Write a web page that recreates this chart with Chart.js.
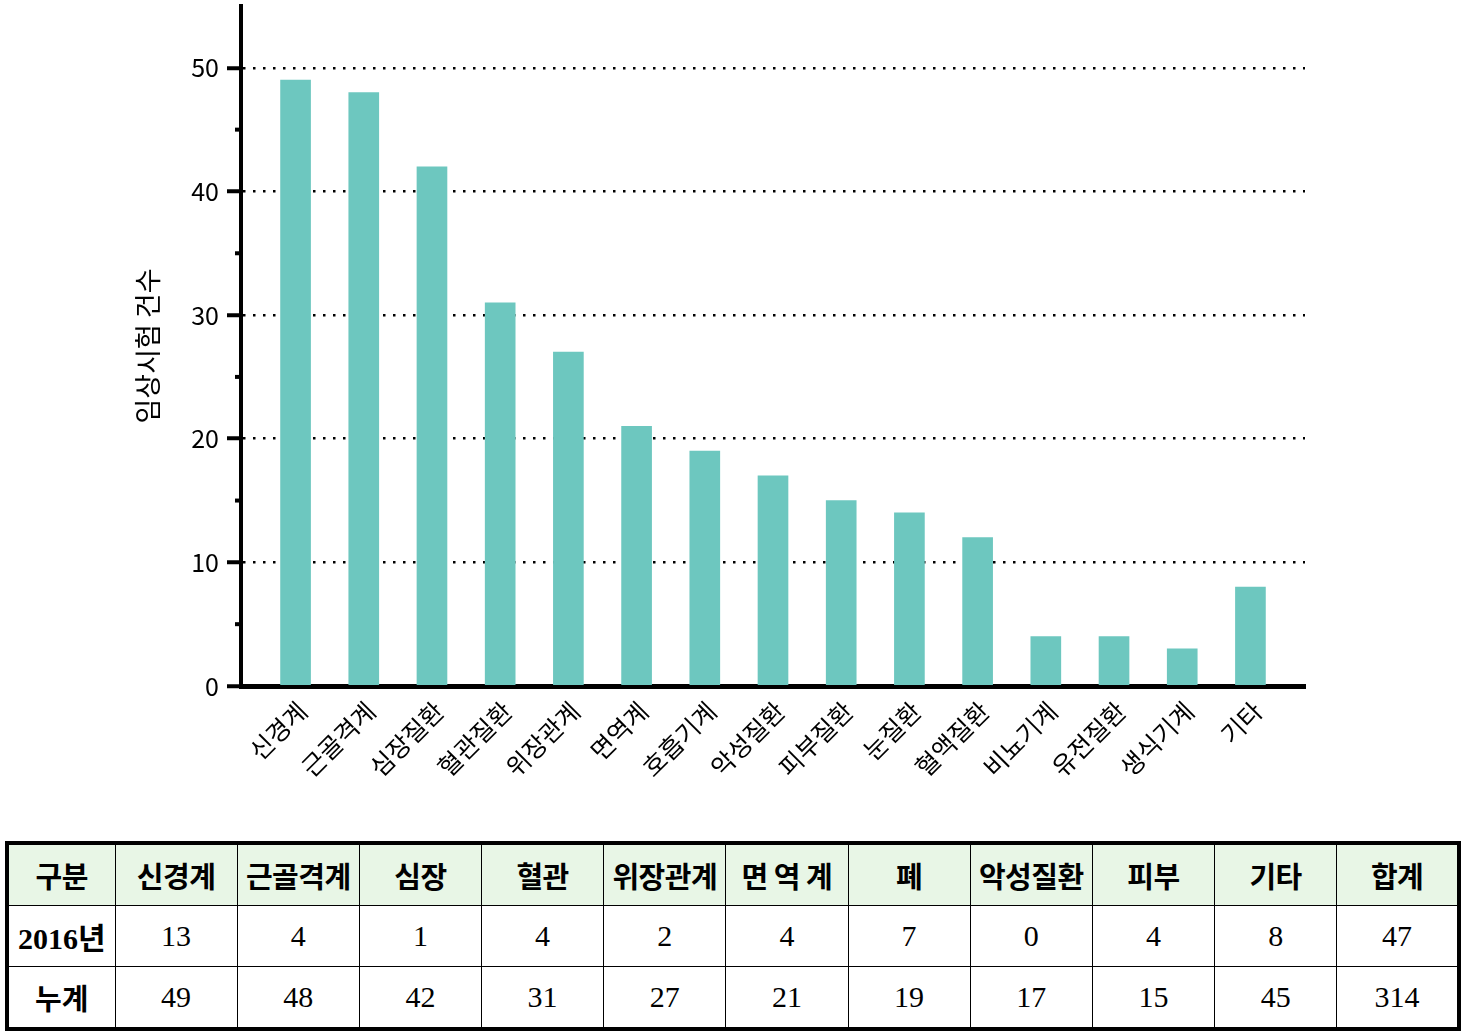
<!DOCTYPE html>
<html>
<head>
<meta charset="utf-8">
<script src="https://cdn.jsdelivr.net/npm/chart.js@4/dist/chart.umd.min.js"></script>
<style>
    body { margin: 0; background: #fff; }
    #wrap { position: relative; width: 1466px; height: 1032px; }
    #chartBox { position: absolute; left: 0; top: 0; width: 1466px; height: 800px; }
    table {
        position: absolute; left: 5px; top: 841px;
        width: 1456px; height: 184px;
        border-collapse: collapse;
        border: 4px solid #000;
        table-layout: fixed;
    }
    td, th {
        border: 1.5px solid #000;
        text-align: center;
        padding: 0;
        height: 60px;
    }
    th {
        background: #e8f6e6;
        font-family: "Noto Sans CJK KR", sans-serif;
        font-weight: 700;
        font-size: 29px;
        letter-spacing: -0.5px;
    }
    td {
        font-family: "Liberation Serif", "Noto Sans CJK KR", serif;
        font-size: 30px;
    }
    td.rowhead {
        font-family: "Liberation Serif", "Noto Sans CJK KR", serif;
        font-weight: 700;
        font-size: 30px;
    }
    td.rowhead.kr { font-family: "Noto Sans CJK KR", sans-serif; font-size: 29px; }
</style>
</head>
<body>
<div id="wrap">
    <div id="chartBox"><canvas id="barChart"></canvas></div>
    <table id="summary"></table>
</div>
<script>
// chart data
const categories = ['신경계', '근골격계', '심장질환', '혈관질환', '위장관계', '면역계', '호흡기계',
    '악성질환', '피부질환', '눈질환', '혈액질환', '비뇨기계', '유전질환', '생식기계', '기타'];
const trialCounts = [49, 48, 42, 31, 27, 21, 19, 17, 15, 14, 12, 4, 4, 3, 8];
const yTicks = [0, 10, 20, 30, 40, 50];
const yMinorTicks = [5, 15, 25, 35, 45];

// table data
const tableHeader = ['구분', '신경계', '근골격계', '심장', '혈관', '위장관계', '면 역 계', '폐', '악성질환', '피부', '기타', '합계'];
const row2016 = ['2016년', 13, 4, 1, 4, 2, 4, 7, 0, 4, 8, 47];
const rowTotal = ['누계', 49, 48, 42, 31, 27, 21, 19, 17, 15, 45, 314];

function buildTable() {
    const table = document.getElementById('summary');
    let html = '<colgroup><col style="width:108px">';
    for (let i = 1; i < tableHeader.length; i++) html += '<col>';
    html += '</colgroup>';
    html += '<tr>' + tableHeader.map(h => `<th>${h}</th>`).join('') + '</tr>';
    html += '<tr>' + row2016.map((v, i) => i === 0 ? `<td class="rowhead">${v}</td>` : `<td>${v}</td>`).join('') + '</tr>';
    html += '<tr>' + rowTotal.map((v, i) => i === 0 ? `<td class="rowhead kr">${v}</td>` : `<td>${v}</td>`).join('') + '</tr>';
    table.innerHTML = html;
}

// minor ticks on the y axis
const minorTicks = {
    id: 'minorTicks',
    afterDraw(chart) {
        const ctx = chart.ctx;
        const y = chart.scales.y;
        ctx.save();
        ctx.strokeStyle = '#000';
        ctx.lineWidth = 4;
        yMinorTicks.forEach(v => {
            const py = y.getPixelForValue(v);
            ctx.beginPath();
            ctx.moveTo(chart.chartArea.left - 6, py);
            ctx.lineTo(chart.chartArea.left, py);
            ctx.stroke();
        });
        ctx.restore();
    }
};

function initChart() {
    const ctx = document.getElementById('barChart').getContext('2d');
    new Chart(ctx, {
        type: 'bar',
        data: {
            datasets: [{
                data: trialCounts.map((v, i) => ({ x: i, y: v })),
                backgroundColor: '#6dc7bf',
                borderWidth: 0,
                barThickness: 30
            }]
        },
        options: {
            responsive: true,
            maintainAspectRatio: false,
            animation: false,
            layout: { padding: { top: 6, left: 120, right: 161, bottom: 0 } },
            plugins: {
                legend: { display: false },
                tooltip: { enabled: false }
            },
            scales: {
                x: {
                    type: 'linear',
                    offset: false,
                    min: -0.8,
                    max: 14.8,
                    afterFit: scale => {
                        scale.height = 114;
                        scale.paddingLeft = 0;
                        scale.paddingRight = 0;
                    },
                    grid: { display: false },
                    border: { display: true, color: '#000', width: 5 },
                    ticks: {
                        stepSize: 1,
                        includeBounds: false,
                        autoSkip: false,
                        minRotation: 45,
                        maxRotation: 45,
                        padding: 2,
                        labelOffset: 7,
                        color: '#000',
                        font: { family: '"Noto Sans CJK KR", sans-serif', size: 25 },
                        callback: value => categories[value]
                    }
                },
                y: {
                    min: 0,
                    max: 55,
                    afterFit: scale => {
                        scale.width = 121;
                        scale.paddingTop = 0;
                        scale.paddingBottom = 0;
                    },
                    afterBuildTicks: scale => { scale.ticks = yTicks.map(v => ({ value: v })); },
                    border: { display: true, color: '#000', width: 4, dash: [2.5, 7.5] },
                    grid: {
                        color: c => (c.tick && c.tick.value > 0) ? '#000' : 'rgba(0,0,0,0)',
                        lineWidth: 2.5,
                        tickColor: '#000',
                        tickWidth: 4,
                        tickLength: 14,
                        tickBorderDash: [0, 0]
                    },
                    ticks: {
                        padding: 8,
                        color: '#000',
                        font: { family: '"Noto Sans CJK KR", sans-serif', size: 25 }
                    },
                    title: {
                        display: true,
                        text: '임상시험 건수',
                        color: '#000',
                        padding: { top: 12, bottom: 0 },
                        font: { family: '"Noto Sans CJK KR", sans-serif', size: 27 }
                    }
                }
            }
        },
        plugins: [minorTicks]
    });
}

buildTable();
initChart();
</script>
</body>
</html>
